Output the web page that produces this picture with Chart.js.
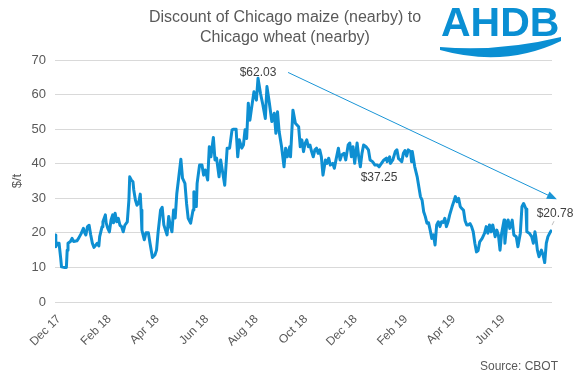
<!DOCTYPE html>
<html>
<head>
<meta charset="utf-8">
<script src="https://cdn.jsdelivr.net/npm/chart.js@4.4.0/dist/chart.umd.min.js"></script>
<style>
    body { margin: 0; background: #fff; }
    canvas { display: block; }
</style>
</head>
<body>
<canvas id="discountChart" width="574" height="382"></canvas>
<script>
// Dias desde 1 dez 2017 e desconto ($/t)
const dayOffsets = [
    0, 1, 3, 5, 7, 8, 12, 14, 15, 16,
    19, 21, 23, 27, 29, 32, 35, 36, 38, 40,
    42, 44, 46, 48, 50, 52, 54, 55, 58, 59,
    62, 63, 65, 67, 69, 71, 72, 74, 76, 78,
    80, 82, 84, 86, 89, 91, 92, 94, 96, 97,
    99, 101, 103, 105, 106, 107, 110, 112, 115, 117,
    120, 123, 125, 127, 130, 132, 134, 138, 140, 142,
    144, 146, 148, 150, 152, 155, 157, 160, 162, 164,
    167, 170, 171, 174, 175, 178, 181, 183, 185, 188,
    190, 192, 195, 197, 199, 202, 204, 207, 209, 212,
    215, 218, 220, 223, 225, 227, 230, 232, 234, 236,
    238, 240, 242, 245, 248, 250, 253, 256, 259, 261,
    264, 267, 270, 272, 274, 276, 279, 282, 284, 286,
    289, 290, 293, 296, 300, 302, 304, 306, 308, 310,
    312, 314, 316, 318, 320, 322, 324, 326, 328, 330,
    333, 335, 337, 339, 342, 344, 346, 349, 351, 353,
    356, 358, 361, 363, 365, 367, 369, 372, 374, 376,
    378, 380, 383, 386, 388, 391, 394, 397, 399, 402,
    405, 408, 409, 412, 413, 416, 419, 421, 423, 425,
    427, 429, 431, 433, 435, 438, 439, 440, 443, 446,
    447, 450, 452, 454, 456, 458, 460, 462, 464, 466,
    468, 470, 472, 474, 476, 478, 480, 482, 484, 486,
    489, 491, 493, 495, 497, 499, 501, 503, 505, 507,
    509, 511, 513, 515, 517, 519, 521, 523, 526, 529,
    531, 533, 535, 537, 539, 542, 544, 546, 548, 550,
    553, 554, 556, 558, 560, 563, 565, 568, 570, 573,
    575, 577, 580, 581, 584, 587, 589, 591, 592, 594,
    596, 599, 601, 603, 605, 607, 610, 612
];
const discount = [
    19.4, 16, 17, 17, 12.7, 10.2, 10, 10, 15, 17,
    17.5, 18.4, 17.5, 17.7, 18.4, 19.7, 21.3, 20.3, 19.4, 21.8,
    22.2, 19.4, 17, 15.8, 16.4, 17, 16.2, 18.9, 21.8, 23.2,
    25.2, 22.9, 21.3, 20.3, 23.7, 25.2, 22.9, 25.7, 23.2, 24.2,
    22.2, 21.8, 20.3, 22.2, 23.2, 29.5, 36.2, 35.3, 34.8, 32.4,
    29.5, 28, 28.6, 31.2, 26.6, 20.8, 18, 20, 20, 17,
    12.9, 13.6, 15, 20.3, 26.6, 27.4, 22.3, 19.4, 24.7, 22,
    20.3, 26.6, 24.3, 31.4, 35.3, 41.3, 35.8, 34.3, 28.5, 24.2,
    22.8, 26.6, 31.9, 27.6, 34.3, 39.6, 39.6, 36.7, 38.2, 35.3,
    44.9, 42, 47.6, 41.1, 41.6, 36.2, 41.1, 36.7, 33.8, 44.5,
    44.5, 49.8, 50, 50, 42, 46.9, 44.5, 45.4, 49.8, 47.3,
    57.5, 52.6, 56, 60.8, 58.4, 64.7, 60.4, 57, 53.1, 62.3,
    57.5, 52.2, 54.6, 48.8, 55, 49.3, 44.9, 39.1, 44.5, 42,
    44.9, 42, 55.5, 51.7, 50.7, 44.9, 46.9, 43.5, 45.9, 46.9,
    44.9, 45.4, 43.5, 42, 44, 44.5, 43, 44, 42, 36.7,
    41.1, 40.1, 41.6, 39.6, 40.1, 38.7, 41.1, 44.5, 41.1, 42.5,
    43, 41.1, 45.4, 46, 42, 44.9, 40.1, 46, 42, 39.1,
    43, 45.4, 44.9, 44, 41.1, 40.6, 39.6, 39.6, 39.1, 40.1,
    41.1, 41.6, 40.6, 42, 40.1, 41.1, 43.5, 44, 41.5, 41.1,
    40.6, 43, 43.8, 42.2, 44, 43.5, 40.6, 43.5, 39.1, 36.2,
    34.8, 30.5, 29.5, 26.1, 24.7, 22.8, 22.9, 20.8, 18.4, 19.4,
    16.5, 22.3, 23.2, 21.8, 23.2, 23, 24.2, 21.8, 23.2, 25.2,
    27.6, 29, 30.5, 29, 30, 27.6, 27, 26.6, 23.5, 22.3,
    22.3, 22.7, 21.8, 20.3, 17, 14.5, 14.9, 17.4, 18.4, 19.9,
    21.8, 19.9, 22.3, 20.3, 22.3, 18.9, 20.8, 19.4, 15, 19.9,
    23.7, 17, 21.8, 23.7, 21.3, 23.7, 19.4, 18.9, 16, 19.9,
    27.6, 28.5, 26.9, 20.3, 19.9, 18.9, 17, 20.3, 18.9, 15,
    13.1, 15, 13.6, 11.4, 17, 18.9, 20.3, 20.78
];

// Eixo X: rótulos a cada 2 meses
const tickDays = [0, 62, 121, 182, 243, 304, 365, 427, 486, 547];
const tickLabels = ['Dec 17', 'Feb 18', 'Apr 18', 'Jun 18', 'Aug 18', 'Oct 18', 'Dec 18', 'Feb 19', 'Apr 19', 'Jun 19'];

// Rótulos de destaque: [dia, valor, texto]
const peakLabel = [250, 64.7, '$62.03'];
const midLabel = [399, 35.9, '$37.25'];
const lastLabel = [612, 20.78, '$20.78'];
// Seta de tendência: início e fim [dia, valor]
const trendStart = [287, 66.4];
const trendEnd = [618, 29.7];

const FONT = "'Liberation Sans', Arial, sans-serif";
const GREY = '#595959';
const BLUE = '#0e8fd2';

const extrasPlugin = {
    id: 'extras',
    afterDraw(chart) {
        const c = chart.ctx;
        const xs = chart.scales.x;
        const ys = chart.scales.y;
        const px = d => xs.getPixelForValue(d);
        const py = v => ys.getPixelForValue(v);

        c.save();
        // Título
        c.fillStyle = GREY;
        c.font = '16px ' + FONT;
        c.textAlign = 'center';
        c.textBaseline = 'middle';
        c.fillText('Discount of Chicago maize (nearby) to', 285, 18);
        c.fillText('Chicago wheat (nearby)', 285, 38);

        // Fonte
        c.font = '12px ' + FONT;
        c.textAlign = 'right';
        c.fillText('Source: CBOT', 558, 367);

        // Rótulos de dados
        c.fillStyle = '#404040';
        c.textAlign = 'center';
        c.fillText(peakLabel[2], px(peakLabel[0]), py(peakLabel[1]) - 6);
        c.fillText(midLabel[2], px(midLabel[0]), py(midLabel[1]));
        c.fillText(lastLabel[2], px(lastLabel[0]) + 3, py(lastLabel[1]) - 16);

        // linha guia do último ponto
        c.strokeStyle = '#bfbfbf';
        c.lineWidth = 1;
        c.beginPath();
        c.moveTo(px(lastLabel[0]), py(lastLabel[1]) - 5);
        c.lineTo(px(lastLabel[0]) + 2, py(lastLabel[1]) - 9);
        c.stroke();

        // Seta
        const x1 = px(trendStart[0]), y1 = py(trendStart[1]);
        const x2 = px(trendEnd[0]), y2 = py(trendEnd[1]);
        const ang = Math.atan2(y2 - y1, x2 - x1);
        c.strokeStyle = '#1a95d6';
        c.fillStyle = '#1a95d6';
        c.lineWidth = 1;
        c.beginPath();
        c.moveTo(x1, y1);
        c.lineTo(x2 - 8 * Math.cos(ang), y2 - 8 * Math.sin(ang));
        c.stroke();
        c.beginPath();
        c.moveTo(x2, y2);
        c.lineTo(x2 - 10 * Math.cos(ang) + 4 * Math.sin(ang), y2 - 10 * Math.sin(ang) - 4 * Math.cos(ang));
        c.lineTo(x2 - 10 * Math.cos(ang) - 4 * Math.sin(ang), y2 - 10 * Math.sin(ang) + 4 * Math.cos(ang));
        c.closePath();
        c.fill();

        // Logo AHDB
        c.fillStyle = '#0a8fd3';
        c.font = 'bold 41px ' + FONT;
        c.textAlign = 'left';
        c.textBaseline = 'alphabetic';
        c.fillText('AHDB', 441, 36);
        c.beginPath();
        c.moveTo(440, 47);
        c.quadraticCurveTo(500, 52, 561, 37);
        c.lineTo(561, 41);
        c.quadraticCurveTo(505, 68, 440, 50);
        c.closePath();
        c.fill();
        c.restore();
    }
};

const ctx = document.getElementById('discountChart').getContext('2d');
const discountChart = new Chart(ctx, {
    type: 'line',
    data: {
        datasets: [{
            data: dayOffsets.map((d, i) => ({ x: d, y: discount[i] })),
            borderColor: BLUE,
            borderWidth: 3,
            borderJoinStyle: 'round',
            pointRadius: 0,
            tension: 0,
            fill: false
        }]
    },
    options: {
        responsive: false,
        animation: false,
        devicePixelRatio: 1,
        layout: {
            padding: { top: 60, right: 22, left: 0, bottom: 0 }
        },
        plugins: {
            legend: { display: false },
            tooltip: { enabled: false }
        },
        scales: {
            x: {
                type: 'linear',
                min: 0,
                max: 612,
                grid: { display: false },
                border: { display: false },
                afterBuildTicks: scale => {
                    scale.ticks = tickDays.map(v => ({ value: v }));
                },
                afterFit: scale => { scale.height = 80; },
                ticks: {
                    autoSkip: false,
                    maxRotation: 45,
                    minRotation: 45,
                    padding: 2,
                    labelOffset: 4,
                    color: GREY,
                    font: { family: FONT, size: 12 },
                    callback: value => tickLabels[tickDays.indexOf(value)]
                }
            },
            y: {
                min: 0,
                max: 70,
                grid: { color: '#d9d9d9', drawTicks: false },
                border: { display: false },
                afterFit: scale => { scale.width = 55; },
                ticks: {
                    stepSize: 10,
                    padding: 9,
                    color: GREY,
                    font: { family: FONT, size: 13 }
                },
                title: {
                    display: true,
                    text: '$/t',
                    color: GREY,
                    font: { family: FONT, size: 13 },
                    padding: { top: 10, bottom: 0 }
                }
            }
        }
    },
    plugins: [extrasPlugin]
});
</script>
</body>
</html>
